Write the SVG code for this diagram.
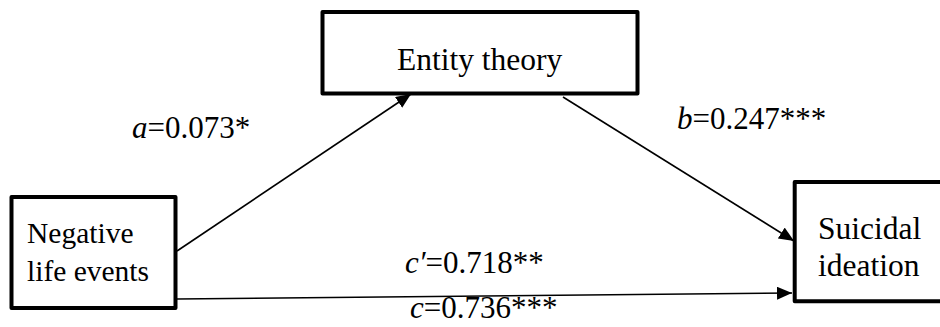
<svg xmlns="http://www.w3.org/2000/svg" width="940" height="327" viewBox="0 0 940 327">
<style>
.box{fill:#fff;stroke:#000;stroke-width:4;stroke-linejoin:round}
.t{font-family:"Liberation Serif","Times New Roman",serif;fill:#000}
.node{font-size:31.5px}
.edge{stroke:#000;stroke-width:1.6;fill:none}
</style>
<defs>
<marker id="ah" markerUnits="userSpaceOnUse" markerWidth="16" markerHeight="13" refX="15" refY="6.5" orient="auto">
<path d="M0,0 L15,6.5 L0,13 z" fill="#000"/>
</marker>
</defs>
<rect width="940" height="327" fill="#fff"/>
<g id="connectors">
<line class="edge" x1="177" y1="251" x2="411" y2="94" marker-end="url(#ah)"/>
<line class="edge" x1="563" y1="97" x2="794" y2="241" marker-end="url(#ah)"/>
<line class="edge" x1="177" y1="299" x2="792" y2="293" marker-end="url(#ah)"/>
</g>
<g id="node-negative">
<rect class="box" x="11.5" y="197" width="164" height="111"/>
<text class="t" x="27" y="243" font-size="29.5">Negative</text>
<text class="t" x="27" y="281" font-size="29.5">life events</text>
</g>
<g id="node-entity">
<rect class="box" x="322.5" y="12" width="315" height="81.5"/>
<text class="t node" x="397" y="70">Entity theory</text>
</g>
<g id="node-suicidal">
<rect class="box" x="794.7" y="182" width="160" height="119.3"/>
<text class="t node" x="818" y="239">Suicidal</text>
<text class="t node" x="818" y="276">ideation</text>
</g>
<g id="labels" font-size="31">
<text class="t" x="132" y="138"><tspan font-style="italic">a</tspan>=0.073*</text>
<text class="t" x="677" y="129"><tspan font-style="italic">b</tspan>=0.247***</text>
<text class="t" x="405" y="273"><tspan font-style="italic">c′</tspan>=0.718**</text>
<text class="t" x="410" y="318"><tspan font-style="italic">c</tspan>=0.736***</text>
</g>
</svg>
